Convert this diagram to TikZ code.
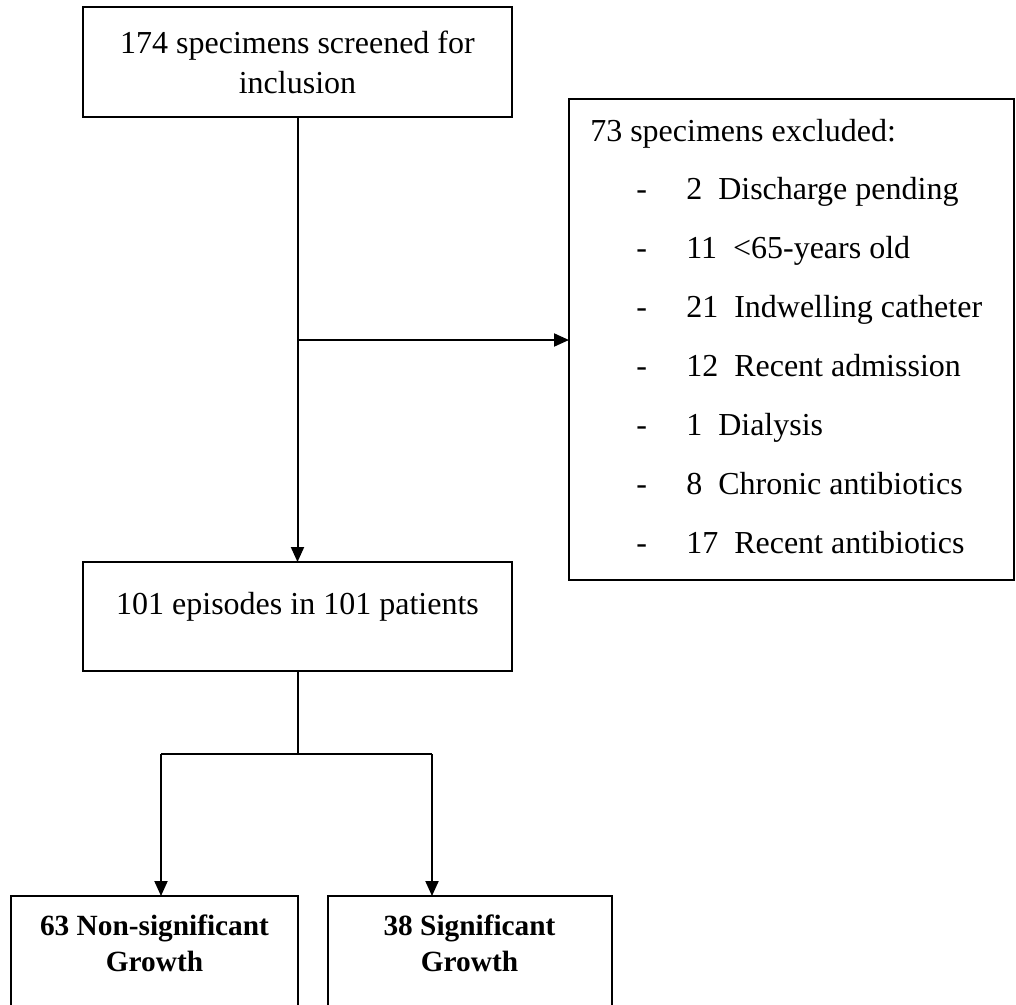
\documentclass[tikz,border=0pt]{standalone}
\usepackage{fontspec}
\setmainfont{Liberation Serif}
\usetikzlibrary{arrows.meta}
\begin{document}
\begin{tikzpicture}[x=0.75pt,y=-0.75pt,
  box/.style={draw, line width=2pt, inner sep=0pt, outer sep=0pt, rectangle},
  conn/.style={line width=1.5pt},
  arr/.style={conn, -{Triangle[length=11.25pt,width=9.75pt]}},
  txt/.style={font=\fontsize{24pt}{30pt}\selectfont, inner sep=0pt},
  btxt/.style={font=\fontsize{22pt}{27pt}\selectfont\bfseries, align=center, inner sep=0pt}]
\useasboundingbox (0,0) rectangle (1016,1004);
\clip (0,0) rectangle (1016,1004);
\fill[white] (0,0) rectangle (1016,1004);

\node[box, txt, align=center, minimum width=321.75pt, minimum height=82.5pt] (b1) at (297.5,62) {174 specimens screened for\\inclusion};
\node[box, minimum width=333.75pt, minimum height=360.75pt] (b2) at (791.5,339.5) {};
\node[box, minimum width=321.75pt, minimum height=81.75pt] (b3) at (297.5,616.5) {};
\node[txt] (t3) at (297.5,607) {101 episodes in 101 patients};
\node[box, minimum width=215.25pt, minimum height=87pt] (b4) at (154.5,954) {};
\node[box, minimum width=213pt, minimum height=87pt] (b5) at (470,954) {};
\node[btxt] (t4) at (154.5,943) {63 Non-significant\\Growth};
\node[btxt] (t5) at (469.5,943) {38 Significant\\Growth};

\node[txt, anchor=base west] (hd) at (590,141) {73 specimens excluded:};
\foreach \n/\t [count=\i] in {2/Discharge pending, 11/{<65-years old}, 21/Indwelling catheter, 12/Recent admission, 1/Dialysis, 8/Chronic antibiotics, 17/Recent antibiotics}{
  \node[txt, anchor=base west] (d\i) at (636,{141+\i*58.86}) {-};
  \node[txt, anchor=base west] (e\i) at (686,{141+\i*58.86}) {\n~~\t};
}

\draw[arr] (b1.south) -- (b3.north);
\coordinate (m) at (297.5,340);
\draw[arr] (m) -- (m -| b2.west);
\coordinate (sp) at (297.5,754);
\coordinate (sl) at (161,754);
\coordinate (sr) at (432,754);
\draw[conn] (b3.south) -- (sp);
\draw[conn] (sl) -- (sr);
\draw[arr] (sl) -- (sl |- b4.north);
\draw[arr] (sr) -- (sr |- b5.north);
\end{tikzpicture}
\end{document}
